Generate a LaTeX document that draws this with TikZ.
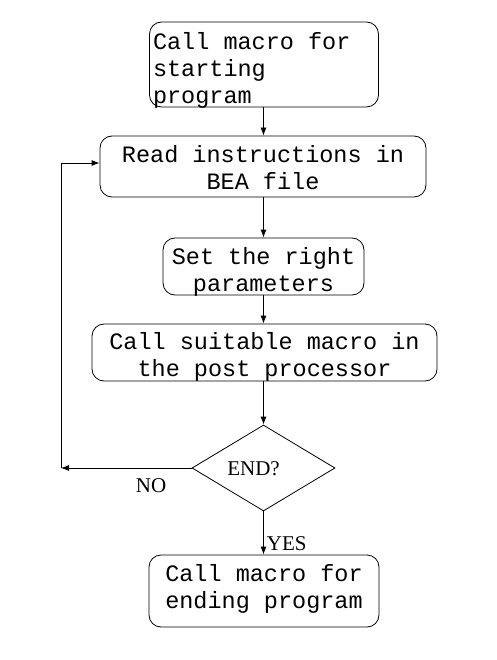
\documentclass[tikz,border=0pt]{standalone}
\usepackage{fontspec}
\newfontfamily\boxfont{Liberation Mono}
\newfontfamily\labelfont{Liberation Serif}
\usetikzlibrary{arrows.meta, shapes.geometric}

\begin{document}
\begin{tikzpicture}[x=1pt, y=-1pt, line width=0.8pt,
    stepbox/.style={draw, rounded corners=12pt, inner sep=0pt},
    steptext/.style={inner sep=0pt, align=center,
        font=\boxfont\fontsize{23.5}{27}\selectfont},
    decision/.style={draw, diamond, aspect=1.66, inner sep=0pt,
        minimum width=143pt, minimum height=86pt},
    answer/.style={font=\labelfont\fontsize{21}{24}\selectfont},
    arr/.style={-{Latex[length=8pt, width=6pt]}}]
            \useasboundingbox (0,0) rectangle (496,660);

            % Boxes of the flow
            \node[stepbox, minimum width=229pt, minimum height=85pt] (start) at (264,64.5) {};
            \node[steptext, align=left, text width=222pt] (starttext) at ([yshift=-6pt]start.center)
                {\spaceskip=0pt\relax Call macro for\\starting\\program};
            \node[stepbox, minimum width=326pt, minimum height=61pt] (read) at (263,166.5) {};
            \node[steptext] (readtext) at ([yshift=-1pt]read.center) {Read instructions in\\BEA file};
            \node[stepbox, minimum width=201pt, minimum height=57pt] (setpar) at (263.5,266.5) {};
            \node[steptext] (setpartext) at ([yshift=-5pt]setpar.center) {Set the right\\parameters};
            \node[stepbox, minimum width=345pt, minimum height=57pt] (callpost) at (264.5,352.5) {};
            \node[steptext] (callposttext) at ([yshift=-4pt]callpost.center) {Call suitable macro in\\the post processor};
            \node[decision] (isend) at (263.5,468) {};
            \node[answer] (isendtext) at ([xshift=-10pt, yshift=-1pt]isend.center) {END?};
            \node[stepbox, minimum width=230pt, minimum height=72pt] (finish) at (264,591) {};
            \node[steptext] (finishtext) at ([yshift=2pt]finish.center) {Call macro for\\ending program};

            % Corners of the loop back
            \coordinate (nocorner) at (61,468);
            \coordinate (looptop) at (61,163);

            % Straight down
            \draw[arr] (start.south -| isend) -- (read.north -| isend);
            \draw[arr] (read.south -| isend) -- (setpar.north -| isend);
            \draw[arr] (setpar.south -| isend) -- (callpost.north -| isend);
            \draw[arr] (callpost.south -| isend) -- (isend.north);
            \draw[arr] (isend.south) -- (finish.north -| isend)
                node[answer, pos=0.75, right, inner sep=3pt] (yes) {YES};

            % Loop back to reading
            \draw[arr] (isend.west) -- (nocorner)
                node[answer, pos=0.31, below=7pt] (no) {NO};
            \draw[arr] (nocorner) -- (looptop) -- (looptop -| read.west);

        \end{tikzpicture}
\end{document}
